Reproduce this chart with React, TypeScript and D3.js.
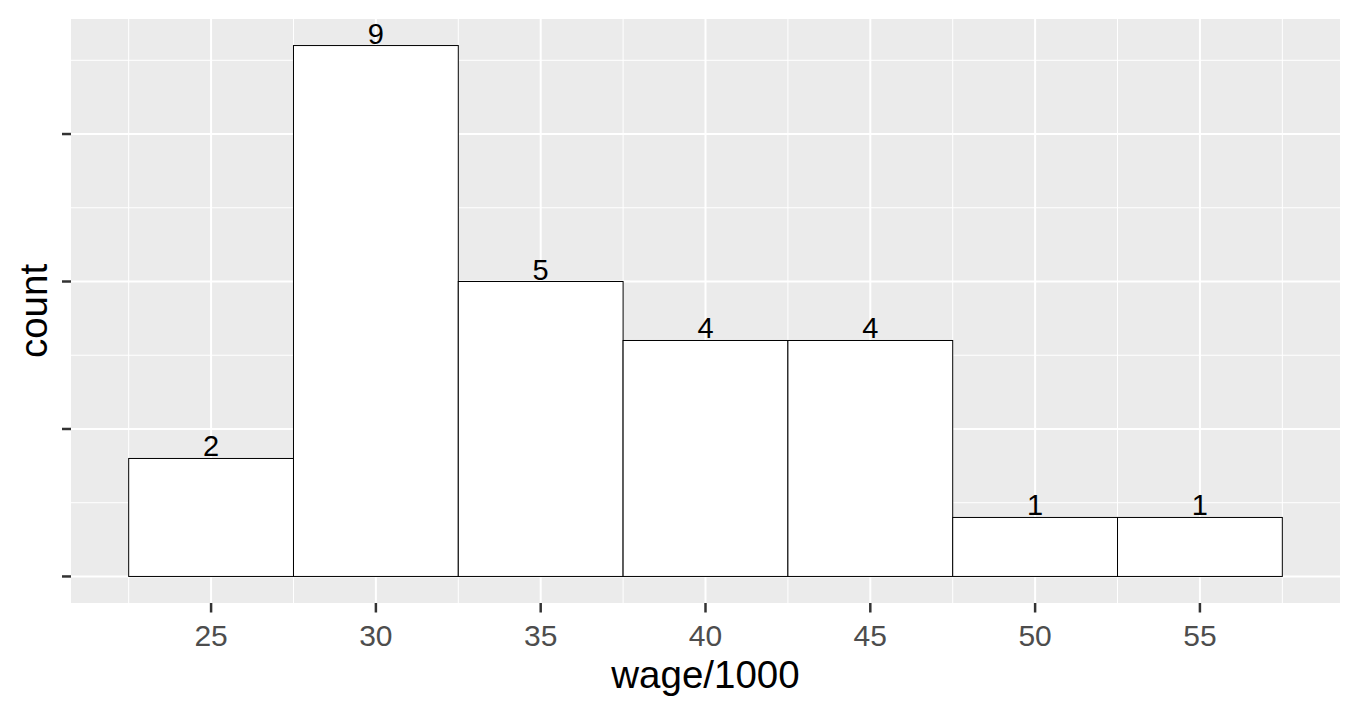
import React from "react";
import * as d3 from "d3";

const binStarts = [22.5, 27.5, 32.5, 37.5, 42.5, 47.5, 52.5];
const binWidth = 5;
const counts = [2, 9, 5, 4, 4, 1, 1];
const xTicks = [25, 30, 35, 40, 45, 50, 55];
const xMinor = [22.5, 27.5, 32.5, 37.5, 42.5, 47.5, 52.5, 57.5];
const yTicks = [0, 2.5, 5, 7.5];
const yMinor = [1.25, 3.75, 6.25, 8.75];

const W = 1360;
const H = 710;
const panel = { left: 71, right: 1340, top: 19, bottom: 603 };

export default function App() {
  const xMin = d3.min(binStarts)!;
  const xMax = d3.max(binStarts)! + binWidth;
  const xPad = (xMax - xMin) * 0.05;
  const yMax = d3.max(counts)!;
  const yPad = yMax * 0.05;
  const x = d3.scaleLinear().domain([xMin - xPad, xMax + xPad]).range([panel.left, panel.right]);
  const y = d3.scaleLinear().domain([-yPad, yMax + yPad]).range([panel.bottom, panel.top]);
  const font = "'Liberation Sans', Arial, sans-serif";

  return (
    <svg width={W} height={H} style={{ position: "absolute", left: 0, top: 0, background: "#fff" }} fontFamily={font}>
      <rect x={panel.left} y={panel.top} width={panel.right - panel.left} height={panel.bottom - panel.top} fill="#EBEBEB" />
      {yMinor.map((v) => (
        <line key={"ym" + v} x1={panel.left} x2={panel.right} y1={y(v)} y2={y(v)} stroke="#fff" strokeWidth={1} />
      ))}
      {xMinor.map((v) => (
        <line key={"xm" + v} y1={panel.top} y2={panel.bottom} x1={x(v)} x2={x(v)} stroke="#fff" strokeWidth={1} />
      ))}
      {yTicks.map((v) => (
        <line key={"yM" + v} x1={panel.left} x2={panel.right} y1={y(v)} y2={y(v)} stroke="#fff" strokeWidth={2} />
      ))}
      {xTicks.map((v) => (
        <line key={"xM" + v} y1={panel.top} y2={panel.bottom} x1={x(v)} x2={x(v)} stroke="#fff" strokeWidth={2} />
      ))}
      {binStarts.map((b, i) => (
        <rect
          key={"bar" + i}
          x={x(b)}
          y={y(counts[i])}
          width={x(b + binWidth) - x(b)}
          height={y(0) - y(counts[i])}
          fill="#fff"
          stroke="#000"
          strokeWidth={1}
        />
      ))}
      {binStarts.map((b, i) => (
        <text
          key={"lab" + i}
          x={x(b + binWidth / 2)}
          y={y(counts[i]) - 2}
          textAnchor="middle"
          fontSize={29}
          fill="#000"
        >
          {counts[i]}
        </text>
      ))}
      {yTicks.map((v) => (
        <line key={"yt" + v} x1={panel.left - 9} x2={panel.left} y1={y(v)} y2={y(v)} stroke="#333" strokeWidth={2.5} />
      ))}
      {xTicks.map((v) => (
        <line key={"xt" + v} x1={x(v)} x2={x(v)} y1={panel.bottom} y2={panel.bottom + 9.5} stroke="#333" strokeWidth={2.5} />
      ))}
      {xTicks.map((v) => (
        <text key={"xl" + v} x={x(v)} y={646} textAnchor="middle" fontSize={30} fill="#4D4D4D">
          {v}
        </text>
      ))}
      <text x={(panel.left + panel.right) / 2} y={688} textAnchor="middle" fontSize={38.5} fill="#000">
        wage/1000
      </text>
      <text
        transform={`translate(47, ${(panel.top + panel.bottom) / 2}) rotate(-90)`}
        textAnchor="middle"
        fontSize={38.5}
        fill="#000"
      >
        count
      </text>
    </svg>
  );
}
